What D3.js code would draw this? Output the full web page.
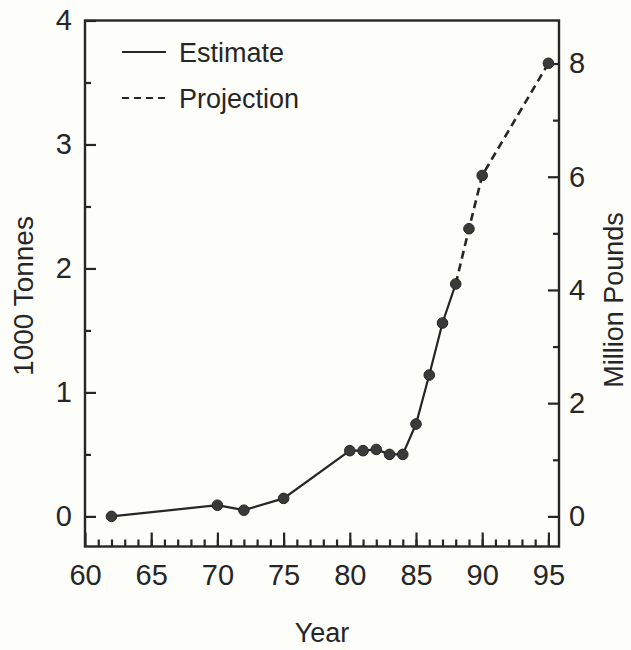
<!DOCTYPE html>
<html>
<head>
<meta charset="utf-8">
<script src="https://cdn.jsdelivr.net/npm/d3@7"></script>
<style>
  body { margin: 0; background: #fdfdfa; }
  svg { display: block; font-family: "Liberation Sans", Arial, sans-serif; }
  .axis text { font-size: 29px; fill: #262626; }
  .axis line { stroke: #262626; stroke-width: 2.2; }
  .axis .domain { display: none; }
</style>
</head>
<body>
<div class="chart"></div>
<script>
// 1000 tonnes per year
let estYears = [62, 70, 72, 75, 80, 81, 82, 83, 84, 85, 86, 87, 88];
let estValues = [0.0, 0.09, 0.05, 0.145, 0.53, 0.53, 0.54, 0.50, 0.50, 0.745, 1.14, 1.56, 1.875];
let projYears = [88, 89, 90, 95];
let projValues = [1.875, 2.32, 2.75, 3.655];

let xTicks = [60, 65, 70, 75, 80, 85, 90, 95];
let leftTicks = [0, 1, 2, 3, 4];
let rightTicks = [0, 2, 4, 6, 8];
let legendLabels = ['Estimate', 'Projection'];

// million pounds per 1000 tonnes, as the right axis is drawn
let lbPerTonne = 2.19;

let margin = {top: 20.5, right: 72, bottom: 103.5, left: 85};
let width = 631 - margin.left - margin.right;
let height = 650 - margin.top - margin.bottom;

let svg = d3.select('.chart')
  .append('svg')
    .attr('width', 631)
    .attr('height', 650)
  .append('g')
    .attr('transform', `translate(${margin.left}, ${margin.top})`);

let xScale = d3.scaleLinear()
  .domain([60, 95.8])
  .range([0, width]);

let yScale = d3.scaleLinear()
  .domain([-0.243, 4])
  .range([height, 0]);

let yRight = d3.scaleLinear()
  .domain(yScale.domain().map(d => d * lbPerTonne))
  .range([height, 0]);

// minor ticks first
svg.append('g')
  .attr('class', 'axis')
  .attr('transform', `translate(0, ${height})`)
  .call(d3.axisBottom(xScale).tickValues(d3.range(61, 96)).tickSize(-7).tickFormat(''));

svg.append('g')
  .attr('class', 'axis')
  .call(d3.axisLeft(yScale).tickValues([0.5, 1.5, 2.5, 3.5]).tickSize(-6).tickFormat(''));

svg.append('g')
  .attr('class', 'axis')
  .attr('transform', `translate(${width}, 0)`)
  .call(d3.axisRight(yRight).tickValues([1, 3, 5, 7]).tickSize(-6).tickFormat(''));

// major ticks with labels
svg.append('g')
  .attr('class', 'axis')
  .attr('transform', `translate(0, ${height})`)
  .call(d3.axisBottom(xScale).tickValues(xTicks).tickSize(-14).tickPadding(18).tickFormat(d3.format('d')))
  .selectAll('text').attr('dy', '0.71em');

svg.append('g')
  .attr('class', 'axis')
  .call(d3.axisLeft(yScale).tickValues(leftTicks).tickSize(-11).tickPadding(13).tickFormat(d3.format('d')));

svg.append('g')
  .attr('class', 'axis')
  .attr('transform', `translate(${width}, 0)`)
  .call(d3.axisRight(yRight).tickValues(rightTicks).tickSize(-11).tickPadding(10).tickFormat(d3.format('d')));

// frame
svg.append('rect')
  .attr('width', width)
  .attr('height', height)
  .style('fill', 'none')
  .style('stroke', '#262626')
  .style('stroke-width', 2.4);

// axis titles
svg.append('text')
  .attr('transform', `translate(${33 - margin.left}, ${296 - margin.top}) rotate(-90)`)
  .attr('text-anchor', 'middle')
  .style('font-size', '28px')
  .style('fill', '#262626')
  .text('1000 Tonnes');

svg.append('text')
  .attr('transform', `translate(${623 - margin.left}, ${300 - margin.top}) rotate(-90)`)
  .attr('text-anchor', 'middle')
  .style('font-size', '27px')
  .style('fill', '#262626')
  .text('Million Pounds');

svg.append('text')
  .attr('x', width / 2)
  .attr('y', 642 - margin.top)
  .attr('text-anchor', 'middle')
  .style('font-size', '27px')
  .style('fill', '#262626')
  .text('Year');

// lines
let line = d3.line()
  .x(d => xScale(d[0]))
  .y(d => yScale(d[1]));

let estData = d3.zip(estYears, estValues);
let projData = d3.zip(projYears, projValues);

svg.append('path')
  .datum(estData)
  .attr('d', line)
  .style('fill', 'none')
  .style('stroke', '#262626')
  .style('stroke-width', 2.2);

svg.append('path')
  .datum(projData)
  .attr('d', line)
  .style('fill', 'none')
  .style('stroke', '#262626')
  .style('stroke-width', 2.6)
  .style('stroke-dasharray', '8,5');

svg.selectAll('circle.pt')
  .data(estData.concat(projData.slice(1)))
  .enter()
  .append('circle')
    .attr('class', 'pt')
    .attr('cx', d => xScale(d[0]))
    .attr('cy', d => yScale(d[1]))
    .attr('r', 5.3)
    .style('fill', '#3a3a3a')
    .style('stroke', '#262626')
    .style('stroke-width', 1);

// legend
let legend = svg.selectAll('g.legend')
  .data(legendLabels)
  .enter()
  .append('g')
    .attr('class', 'legend')
    .attr('transform', (d, i) => `translate(${122 - margin.left}, ${52 + i * 46 - margin.top})`);

legend.append('line')
  .attr('x1', 0)
  .attr('x2', 44)
  .style('stroke', '#262626')
  .style('stroke-width', 2.2)
  .style('stroke-dasharray', (d, i) => i ? '7,5' : null);

legend.append('text')
  .attr('x', 57)
  .attr('y', 10)
  .style('font-size', '27px')
  .style('fill', '#262626')
  .text(d => d);
</script>
</body>
</html>
